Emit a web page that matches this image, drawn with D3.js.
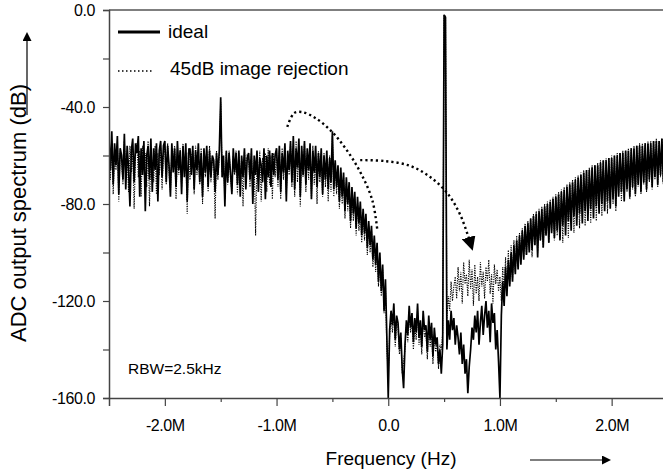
<!DOCTYPE html>
<html>
<head>
<meta charset="utf-8">
<script src="https://cdn.jsdelivr.net/npm/d3@7"></script>
<style>
  body { margin: 0; background: #fff; }
  text { font-family: "Liberation Sans", Arial, sans-serif; fill: #000; }
</style>
</head>
<body>
<div class="chart"></div>
<script>
// frequency grid: first bin and spacing (Hz)
var fStart = -2.5e6;
var fStep = 12.5e3;

// "ideal" spectrum (dB), 40 bins per 0.5 MHz
var idealA = [-53,-66,-50,-72,-55,-64,-52,-76,-57,-60,-70,-51,-74,-56,-65,-81,-58,-53,-71,-55,
  -59,-52,-77,-57,-68,-54,-83,-60,-56,-70,-53,-75,-57,-66,-55,-79,-58,-54,-69,-56];
var idealB = [-54,-71,-56,-64,-77,-55,-67,-57,-73,-54,-66,-58,-76,-56,-69,-55,-79,-59,-57,-68,
  -56,-74,-58,-66,-55,-71,-59,-77,-57,-67,-56,-73,-58,-69,-60,-62,-75,-59,-68,-58];
var idealC = [-36,-69,-60,-81,-58,-71,-59,-67,-76,-57,-67,-59,-72,-58,-77,-60,-69,-57,-74,-61,
  -59,-70,-57,-80,-60,-68,-58,-75,-61,-64,-71,-57,-78,-60,-69,-58,-73,-59,-68,-60];
var idealD = [-57,-70,-56,-75,-59,-67,-55,-79,-58,-66,-54,-71,-52,-74,-57,-65,-53,-77,-56,-68,
  -54,-72,-57,-66,-55,-78,-58,-67,-56,-73,-59,-69,-57,-76,-60,-70,-58,-74,-61,-71];
var idealE = [-50,-74,-62,-73,-64,-79,-65,-77,-67,-83,-69,-80,-71,-87,-73,-84,-75,-90,-77,-88,
  -79,-93,-82,-92,-84,-98,-87,-97,-89,-103,-93,-105,-96,-112,-100,-116,-105,-124,-111,-135];
var idealF = [-160,-132,-124,-130,-121,-136,-126,-129,-140,-133,-148,-156,-138,-128,-134,-122,-131,-125,-137,-127,
  -133,-121,-135,-128,-139,-124,-132,-130,-141,-126,-136,-129,-143,-131,-138,-135,-146,-140,-150,-138];
var idealG = [-2,-3,-140,-128,-136,-124,-132,-127,-138,-130,-135,-142,-133,-146,-138,-150,-144,-158,-147,-140,
  -131,-136,-126,-133,-124,-138,-129,-122,-134,-126,-120,-131,-124,-137,-121,-129,-125,-140,-132,-145];
var idealH = [-160,-126,-112,-122,-106,-118,-103,-114,-100,-112,-97,-109,-95,-107,-93,-105,-91,-103,-89,-101,
  -88,-100,-86,-99,-85,-97,-84,-102,-83,-95,-82,-98,-81,-93,-80,-96,-79,-92,-78,-94];
var idealI = [-77,-91,-76,-95,-75,-89,-74,-93,-73,-87,-72,-91,-71,-85,-70,-89,-69,-84,-68,-88,
  -67,-83,-66,-87,-66,-82,-65,-86,-64,-81,-64,-84,-63,-80,-62,-83,-62,-79,-61,-82];
var idealJ = [-61,-78,-60,-81,-60,-77,-59,-75,-59,-79,-58,-74,-58,-77,-57,-73,-57,-76,-56,-72,
  -56,-75,-56,-71,-55,-74,-55,-70,-55,-73,-54,-69,-54,-72,-54,-68,-53,-71,-54,-67];

// "45dB image rejection" spectrum (dB)
var rejA = [-56,-70,-54,-76,-58,-66,-55,-79,-59,-62,-72,-54,-68,-59,-75,-56,-67,-57,-82,-60,
  -55,-69,-58,-77,-56,-66,-59,-73,-54,-81,-60,-63,-71,-56,-76,-59,-68,-57,-74,-59];
var rejB = [-57,-72,-55,-67,-75,-58,-65,-56,-78,-59,-68,-57,-73,-55,-66,-59,-84,-57,-70,-60,
  -58,-76,-56,-68,-59,-72,-57,-80,-60,-69,-58,-75,-56,-71,-61,-64,-86,-58,-70,-60];
var rejC = [-38,-67,-61,-78,-59,-72,-58,-69,-75,-60,-68,-58,-76,-59,-71,-61,-81,-58,-67,-60,
  -61,-73,-59,-77,-62,-93,-60,-71,-58,-79,-61,-68,-59,-75,-57,-72,-60,-78,-59,-69];
var rejD = [-59,-73,-58,-78,-57,-70,-56,-76,-59,-68,-55,-73,-57,-77,-54,-71,-56,-81,-58,-69,
  -55,-75,-59,-70,-57,-78,-56,-72,-60,-80,-58,-71,-61,-77,-59,-73,-62,-79,-60,-75];
var rejE = [-52,-77,-63,-76,-66,-82,-67,-80,-69,-86,-71,-83,-73,-90,-75,-87,-77,-93,-79,-91,
  -81,-96,-84,-95,-86,-101,-89,-100,-91,-106,-95,-108,-98,-114,-102,-118,-107,-125,-114,-140];
var rejF = [-150,-134,-127,-133,-124,-139,-129,-131,-142,-135,-150,-145,-140,-130,-137,-125,-133,-128,-140,-130,
  -136,-124,-138,-131,-142,-127,-135,-133,-144,-129,-139,-132,-146,-134,-141,-137,-148,-138,-140,-133];
var rejG = [-2,-3,-128,-118,-124,-112,-120,-114,-110,-119,-106,-116,-108,-121,-104,-113,-109,-118,-103,-115,
  -107,-122,-105,-117,-110,-120,-104,-114,-108,-119,-106,-112,-103,-117,-109,-121,-105,-113,-107,-116];
var rejH = [-110,-120,-106,-118,-102,-116,-99,-113,-97,-111,-95,-108,-93,-106,-92,-104,-90,-102,-88,-101,
  -87,-99,-86,-102,-84,-97,-83,-100,-82,-95,-81,-98,-80,-93,-79,-96,-78,-91,-77,-95];
var rejI = [-76,-93,-75,-90,-74,-96,-73,-89,-72,-94,-71,-88,-70,-92,-69,-86,-68,-90,-67,-85,
  -66,-89,-66,-84,-65,-88,-64,-83,-64,-87,-63,-82,-62,-85,-62,-81,-61,-84,-61,-80];
var rejJ = [-60,-80,-60,-83,-59,-76,-59,-79,-58,-77,-58,-75,-57,-78,-57,-74,-56,-77,-56,-73,
  -55,-76,-55,-72,-55,-75,-54,-71,-54,-74,-54,-70,-53,-73,-54,-69,-53,-72,-54,-68];

var ideal = [].concat(idealA, idealB, idealC, idealD, idealE, idealF, idealG, idealH, idealI, idealJ);
var rej = [].concat(rejA, rejB, rejC, rejD, rejE, rejF, rejG, rejH, rejI, rejJ);

// annotation arrows, [Hz, dB]
var arrow1 = [[-0.904e6,-48.2],[-0.842e6,-42.5],[-0.77e6,-42.1],[-0.654e6,-44.5],[-0.519e6,-49.5],[-0.385e6,-56.9],[-0.251e6,-66.8],[-0.143e6,-78.4],[-0.098e6,-90.7]];
var arrow2 = [[-0.251e6,-61.9],[-0.027e6,-62.3],[0.197e6,-64.3],[0.376e6,-68.9],[0.528e6,-75.5],[0.645e6,-84.5],[0.738e6,-96.5]];

var legendNames = ["ideal", "45dB image rejection"];
var xTicks = [-2e6, -1e6, 0, 1e6, 2e6];
var xMinor = [-1.5e6, -0.5e6, 0.5e6, 1.5e6];
var yTicks = [0, -20, -40, -60, -80, -100, -120, -140, -160];

var W = 663, H = 472;
var mLeft = 109, mTop = 10, mBottom = 398;

var svg = d3.select(".chart").append("svg")
    .attr("width", W).attr("height", H);

var x = d3.scaleLinear().domain([-2.5e6, 2.5e6]).range([mLeft, 667.5]);
var y = d3.scaleLinear().domain([-160, 0]).range([mBottom, mTop]);

var defs = svg.append("defs");
defs.append("clipPath").attr("id", "plotclip")
  .append("rect").attr("x", mLeft).attr("y", mTop).attr("width", W - mLeft).attr("height", mBottom - mTop);

defs.append("marker")
    .attr("id", "head").attr("viewBox", "0 0 10 10")
    .attr("refX", 5).attr("refY", 5)
    .attr("markerWidth", 14).attr("markerHeight", 14)
    .attr("markerUnits", "userSpaceOnUse")
    .attr("orient", "auto")
  .append("path").attr("d", "M0,0L10,5L0,10Z").attr("fill", "#000");
defs.append("marker")
    .attr("id", "head2").attr("viewBox", "0 0 10 10")
    .attr("refX", 0).attr("refY", 5)
    .attr("markerWidth", 9).attr("markerHeight", 9)
    .attr("markerUnits", "userSpaceOnUse")
    .attr("orient", "auto")
  .append("path").attr("d", "M0,0L10,5L0,10Z").attr("fill", "#000");

// frame top line
svg.append("line")
    .attr("x1", mLeft).attr("x2", W).attr("y1", mTop).attr("y2", mTop)
    .attr("stroke", "#555").attr("stroke-width", 1.5);

// spectra
var line = d3.line()
    .x(function (d, i) { return x(fStart + i * fStep) })
    .y(function (d) { return y(d) });

var plot = svg.append("g").attr("clip-path", "url(#plotclip)");
plot.append("path").datum(rej)
    .attr("d", line)
    .attr("fill", "none").attr("stroke", "#000").attr("stroke-width", 1.1)
    .attr("stroke-dasharray", "1.2,1.2");
plot.append("path").datum(ideal)
    .attr("d", line)
    .attr("fill", "none").attr("stroke", "#000").attr("stroke-width", 1.7)
    .attr("stroke-linejoin", "bevel");

// annotation arrows
var arrowLine = d3.line()
    .x(function (d) { return x(d[0]) })
    .y(function (d) { return y(d[1]) })
    .curve(d3.curveCatmullRom);

svg.append("path").datum(arrow1)
    .attr("d", arrowLine)
    .attr("fill", "none").attr("stroke", "#000").attr("stroke-width", 2.4)
    .attr("stroke-dasharray", "2.2,3");
svg.append("path").datum(arrow2)
    .attr("d", arrowLine)
    .attr("fill", "none").attr("stroke", "#000").attr("stroke-width", 2.4)
    .attr("stroke-dasharray", "2.2,3")
    .attr("marker-end", "url(#head)");

// axes
svg.append("g")
    .attr("transform", "translate(0," + mBottom + ")")
    .call(d3.axisBottom(x).tickValues(xTicks).tickSize(8).tickPadding(14)
        .tickFormat(function (d) { return d === 0 ? "0.0" : (d / 1e6).toFixed(1) + "M" }));
svg.append("g")
    .attr("transform", "translate(0," + mBottom + ")")
    .call(d3.axisBottom(x).tickValues(xMinor).tickSize(4).tickFormat(""))
    .select(".domain").remove();

svg.append("g")
    .attr("transform", "translate(" + mLeft + ",0)")
    .call(d3.axisLeft(y).tickValues(yTicks).tickSize(6).tickPadding(8)
        .tickFormat(function (d) { return d % 40 === 0 ? d.toFixed(1) : "" }));

svg.selectAll(".domain").attr("stroke", "#444").attr("stroke-width", 1.5);
svg.selectAll(".tick line").attr("stroke", "#444").attr("stroke-width", 1.2);
svg.selectAll(".tick text")
    .attr("font-family", "Liberation Sans, Arial, sans-serif")
    .attr("font-size", 16).attr("fill", "#000").attr("letter-spacing", "-0.4");

// axis titles and arrows
svg.append("text")
    .attr("transform", "translate(26,213) rotate(-90)")
    .attr("text-anchor", "middle").attr("font-size", 22)
    .text("ADC output spectrum (dB)");
svg.append("text")
    .attr("x", 391).attr("y", 465)
    .attr("text-anchor", "middle").attr("font-size", 19)
    .text("Frequency (Hz)");

svg.append("line").attr("x1", 27).attr("x2", 27).attr("y1", 115).attr("y2", 41)
    .attr("stroke", "#000").attr("stroke-width", 1.2).attr("marker-end", "url(#head2)");
svg.append("line").attr("x1", 530).attr("x2", 602).attr("y1", 460).attr("y2", 460)
    .attr("stroke", "#000").attr("stroke-width", 1.2).attr("marker-end", "url(#head2)");

// legend
var legend = svg.append("g");
legend.append("line").attr("x1", 118).attr("x2", 160).attr("y1", 32).attr("y2", 32)
    .attr("stroke", "#000").attr("stroke-width", 3);
legend.append("line").attr("x1", 118).attr("x2", 152).attr("y1", 71).attr("y2", 71)
    .attr("stroke", "#000").attr("stroke-width", 1.5).attr("stroke-dasharray", "1.5,2.5");
legend.selectAll("text.lg")
    .data(legendNames)
    .join("text")
    .attr("class", "lg")
    .attr("x", function (d, i) { return i === 0 ? 168 : 170 })
    .attr("y", function (d, i) { return 38 + i * 37 })
    .attr("font-size", 19)
    .text(function (d) { return d });

svg.append("text")
    .attr("x", 128).attr("y", 374)
    .attr("font-size", 15.5)
    .text("RBW=2.5kHz");
</script>
</body>
</html>
